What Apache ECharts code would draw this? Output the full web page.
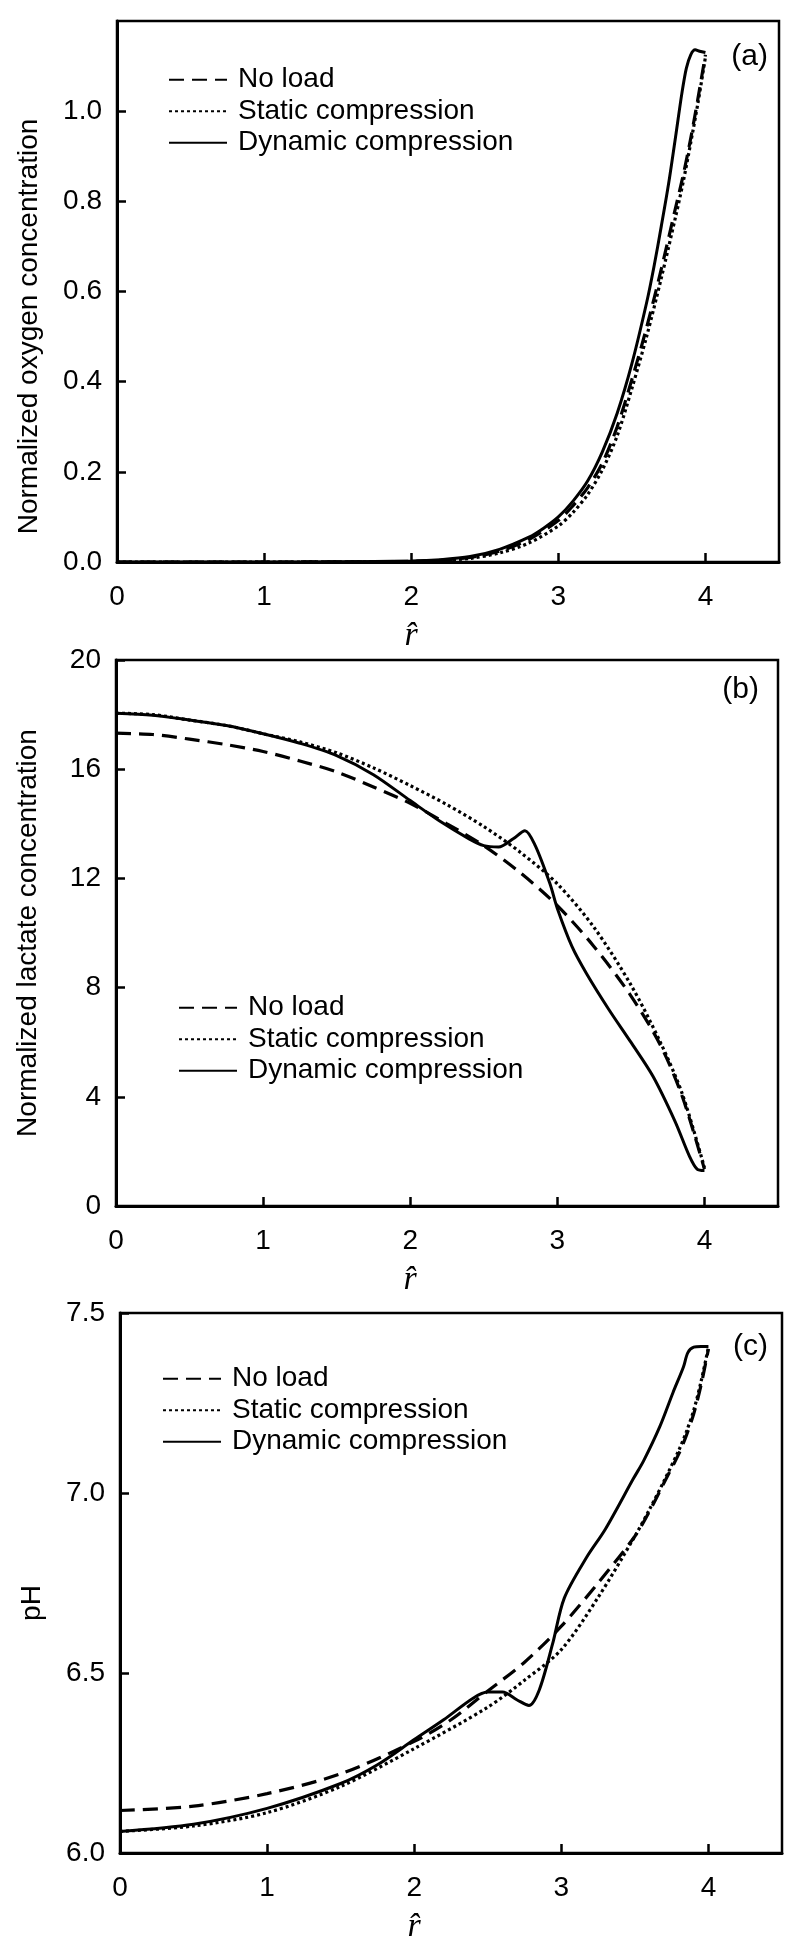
<!DOCTYPE html>
<html>
<head>
<meta charset="utf-8">
<script src="https://cdn.jsdelivr.net/npm/echarts@6/dist/echarts.min.js"></script>
<style>
html,body{margin:0;padding:0;background:#fff;}
#chart{width:800px;height:1945px;}
</style>
</head>
<body>
<div id="chart"></div>
<script>
// ---------- DATA ----------
const seriesNames = ['No load', 'Static compression', 'Dynamic compression'];
const panelLabels = ['(a)', '(b)', '(c)'];
const xTicks = [0, 1, 2, 3, 4];
const yTitles = ['Normalized oxygen concentration', 'Normalized lactate concentration', 'pH'];

// Panel (a): oxygen
const aNoLoadR = [0, 1.0, 1.5, 2.0, 2.2, 2.4, 2.6, 2.8, 3.0, 3.1, 3.2, 3.3, 3.4, 3.5, 3.6, 3.7, 3.8, 3.85, 3.9, 3.95, 4.0];
const aNoLoadV = [0, 0, 0.0003, 0.0015, 0.004, 0.01, 0.024, 0.05, 0.092, 0.125, 0.165, 0.22, 0.3, 0.405, 0.52, 0.65, 0.79, 0.86, 0.94, 1.03, 1.125];
const aStaticR = [0, 1.0, 1.5, 2.0, 2.2, 2.4, 2.6, 2.8, 3.0, 3.1, 3.2, 3.3, 3.4, 3.5, 3.6, 3.7, 3.8, 3.85, 3.9, 3.95, 4.0];
const aStaticV = [0, 0, 0.0002, 0.001, 0.003, 0.008, 0.02, 0.042, 0.08, 0.11, 0.15, 0.205, 0.28, 0.385, 0.5, 0.63, 0.77, 0.845, 0.93, 1.02, 1.12];
const aDynR = [0, 1.0, 1.5, 2.0, 2.2, 2.4, 2.6, 2.8, 2.9, 3.0, 3.1, 3.2, 3.3, 3.4, 3.5, 3.6, 3.65, 3.7, 3.75, 3.8, 3.84, 3.87, 3.9, 3.93, 3.96, 4.0];
const aDynV = [0, 0, 0.0005, 0.002, 0.005, 0.012, 0.028, 0.055, 0.075, 0.1, 0.135, 0.18, 0.245, 0.33, 0.44, 0.575, 0.655, 0.745, 0.84, 0.95, 1.04, 1.095, 1.125, 1.136, 1.133, 1.13];

// Panel (b): lactate
const bNoLoadR = [0, 0.25, 0.5, 0.75, 1.0, 1.25, 1.5, 1.75, 2.0, 2.25, 2.5, 2.75, 3.0, 3.25, 3.5, 3.7, 3.85, 4.0];
const bNoLoadV = [17.32, 17.27, 17.1, 16.9, 16.65, 16.3, 15.9, 15.35, 14.75, 14.0, 13.2, 12.2, 11.0, 9.5, 7.7, 5.9, 4.0, 1.35];
const bStaticR = [0, 0.25, 0.5, 0.75, 1.0, 1.25, 1.5, 1.75, 2.0, 2.25, 2.5, 2.75, 3.0, 3.25, 3.5, 3.7, 3.85, 4.0];
const bStaticV = [18.05, 18.0, 17.8, 17.6, 17.3, 17.0, 16.6, 16.05, 15.4, 14.7, 13.9, 12.95, 11.8, 10.2, 8.1, 6.0, 4.1, 1.4];
const bDynR = [0, 0.25, 0.5, 0.75, 1.0, 1.25, 1.5, 1.75, 2.0, 2.2, 2.4, 2.5, 2.6, 2.7, 2.78, 2.85, 2.95, 3.0, 3.1, 3.2, 3.35, 3.5, 3.65, 3.8, 3.9, 3.95, 4.0];
const bDynV = [18.05, 17.98, 17.8, 17.6, 17.3, 16.95, 16.5, 15.8, 14.85, 14.1, 13.45, 13.2, 13.15, 13.45, 13.75, 13.2, 11.8, 10.9, 9.5, 8.5, 7.2, 6.0, 4.75, 3.1, 1.8, 1.35, 1.3];

// Panel (c): pH
const cNoLoadR = [0, 0.5, 1.0, 1.5, 2.0, 2.25, 2.5, 2.75, 3.0, 3.25, 3.5, 3.6, 3.7, 3.8, 3.85, 3.9, 3.95, 4.0];
const cNoLoadV = [6.118, 6.13, 6.165, 6.22, 6.31, 6.37, 6.45, 6.53, 6.63, 6.75, 6.88, 6.95, 7.03, 7.11, 7.16, 7.22, 7.3, 7.4];
const cStaticR = [0, 0.5, 1.0, 1.5, 2.0, 2.5, 2.75, 3.0, 3.25, 3.5, 3.6, 3.7, 3.8, 3.85, 3.9, 3.95, 4.0];
const cStaticV = [6.06, 6.075, 6.112, 6.185, 6.29, 6.405, 6.48, 6.565, 6.71, 6.88, 6.955, 7.035, 7.12, 7.17, 7.23, 7.31, 7.405];
const cDynR = [0, 0.5, 1.0, 1.5, 1.75, 2.0, 2.2, 2.4, 2.5, 2.6, 2.7, 2.78, 2.85, 2.94, 3.02, 3.17, 3.3, 3.49, 3.56, 3.67, 3.76, 3.83, 3.86, 3.9, 3.95, 4.0];
const cDynV = [6.06, 6.08, 6.124, 6.193, 6.245, 6.315, 6.37, 6.43, 6.447, 6.447, 6.425, 6.41, 6.453, 6.58, 6.708, 6.82, 6.9, 7.04, 7.09, 7.185, 7.28, 7.35, 7.39, 7.405, 7.407, 7.407];

// Axis ranges / ticks
const xMin = 0, xMax = 4.5, xInterval = 1;
const yRanges = [
  {min: 0, max: 1.2, interval: 0.2, decimals: 1, showMax: false},
  {min: 0, max: 20, interval: 4, decimals: 0, showMax: true},
  {min: 6.0, max: 7.5, interval: 0.5, decimals: 1, showMax: true}
];

// ---------- LAYOUT ----------
const grids = [
  {left: 117, top: 21, width: 662, height: 541},
  {left: 116, top: 660, width: 662, height: 546},
  {left: 120, top: 1313, width: 662, height: 541}
];
const legendPos = [
  {left: 168, top: 64},
  {left: 178, top: 992},
  {left: 162, top: 1363}
];
const yNameShift = [70, 0, 40];
const labelPos = [{right: 32, top: 42}, {right: 41, top: 675}, {right: 32, top: 1332}];
const sansFont = 'Liberation Sans';
const lineStyles = [
  {type: [15, 8], width: 3.2},
  {type: [3, 3], width: 3.2},
  {type: 'solid', width: 3}
];

const zip = (r, v) => r.map((x, i) => [x, v[i]]);
const panelData = [
  [zip(aNoLoadR, aNoLoadV), zip(aStaticR, aStaticV), zip(aDynR, aDynV)],
  [zip(bNoLoadR, bNoLoadV), zip(bStaticR, bStaticV), zip(bDynR, bDynV)],
  [zip(cNoLoadR, cNoLoadV), zip(cStaticR, cStaticV), zip(cDynR, cDynV)]
];

const option = {
  backgroundColor: '#fff',
  animation: false,
  grid: grids.map(g => Object.assign({show: true, borderColor: '#000', borderWidth: 2.5, backgroundColor: 'transparent'}, g)),
  xAxis: grids.map((g, i) => ({
    gridIndex: i, type: 'value', min: xMin, max: xMax, interval: xInterval,
    name: 'r\u0302', nameLocation: 'middle', nameGap: 57,
    nameTextStyle: {fontFamily: 'Liberation Serif', fontStyle: 'italic', fontSize: 34, color: '#000', padding: [0, 74, 0, 0]},
    axisLine: {lineStyle: {color: '#000', width: 3}},
    axisTick: {inside: true, length: 9, lineStyle: {color: '#000', width: 2.5}},
    axisLabel: {fontFamily: sansFont, fontSize: 28, color: '#000', margin: 21, showMaxLabel: false,
      formatter: v => xTicks.includes(v) ? String(v) : ''},
    splitLine: {show: false}
  })),
  yAxis: grids.map((g, i) => ({
    gridIndex: i, type: 'value', min: yRanges[i].min, max: yRanges[i].max, interval: yRanges[i].interval,
    name: yTitles[i], nameLocation: 'middle', nameGap: 74,
    nameTextStyle: {fontFamily: sansFont, fontSize: 28, color: '#000', padding: [0, yNameShift[i], 0, 0]},
    axisLine: {lineStyle: {color: '#000', width: 3}},
    axisTick: {inside: true, length: 9, lineStyle: {color: '#000', width: 2.5}},
    axisLabel: {fontFamily: sansFont, fontSize: 28, color: '#000', margin: 15, showMaxLabel: yRanges[i].showMax,
      formatter: v => v.toFixed(yRanges[i].decimals)},
    splitLine: {show: false}
  })),
  legend: legendPos.map(p => ({
    left: p.left, top: p.top, orient: 'vertical', padding: 0, itemGap: 0,
    itemWidth: 58, itemHeight: 14, data: seriesNames, selectedMode: false,
    itemStyle: {opacity: 0},
    textStyle: {fontFamily: sansFont, fontSize: 28, color: '#000', lineHeight: 31.5, padding: [0, 0, 0, 6]}
  })),
  graphic: labelPos.map((p, i) => ({
    type: 'text', right: p.right, top: p.top,
    style: {text: panelLabels[i], font: '30px "Liberation Sans"', fill: '#000'}
  })),
  series: []
};

panelData.forEach((arr, p) => {
  arr.forEach((data, s) => {
    option.series.push({
      type: 'line', name: seriesNames[s], xAxisIndex: p, yAxisIndex: p,
      data: data, symbol: 'none', showSymbol: false, smooth: 0.3, clip: false,
      lineStyle: {color: '#000', type: lineStyles[s].type, width: lineStyles[s].width},
      itemStyle: {color: '#000'}
    });
  });
});

const chart = echarts.init(document.getElementById('chart'), null, {renderer: 'canvas'});
chart.setOption(option);
</script>
</body>
</html>
